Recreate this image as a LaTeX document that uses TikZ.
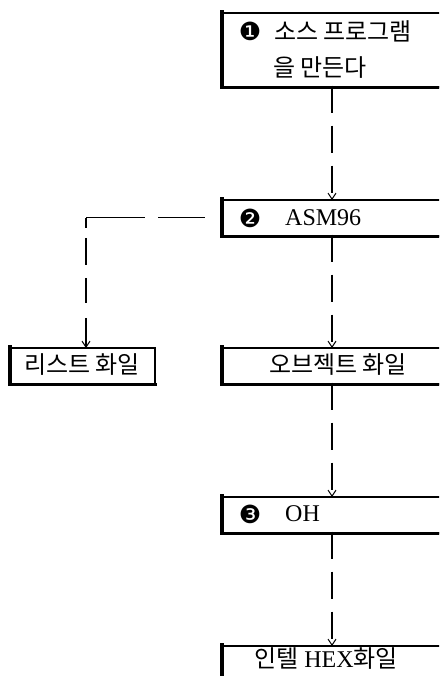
\documentclass[tikz,border=0pt]{standalone}
\usepackage{fontspec}
\setmainfont{Liberation Serif}
\newfontfamily\kr{Noto Sans CJK KR}
\newfontfamily\dv{DejaVu Sans}
\usetikzlibrary{arrows.meta}
\tikzset{
  boxnode/.style={draw, line width=1.6pt, inner sep=0pt, anchor=north west},
  heavy/.style={line width=3.5pt, line cap=rect},
  lbl/.style={inner sep=0pt, font=\fontsize{24}{28}\selectfont},
  num/.style={inner sep=0pt, font=\fontsize{25}{28}\selectfont\dv},
  tip/.style={-{Straight Barb[length=6pt,width=8pt,line width=1pt]}},
  conn/.style={line width=1.1pt, dash pattern=on 27pt off 13pt, tip},
  hconn/.style={line width=1.1pt, dash pattern=on 59pt off 13pt on 47pt off 30pt},
  vconn/.style={line width=1.1pt, dash pattern=on 10pt off 10pt on 27pt off 13pt on 25pt off 15pt on 60pt off 0pt, tip}
}
\begin{document}
\begin{tikzpicture}[x=1pt,y=-1pt]
\useasboundingbox (0,0) rectangle (439,676);
\clip (0,0) rectangle (439,676);
% boxes
\node[boxnode, minimum width=230pt, minimum height=74pt] (b1) at (222,12) {};
\node[boxnode, minimum width=230pt, minimum height=36pt] (b2) at (222,199) {};
\node[boxnode, minimum width=144pt, minimum height=36pt] (lst) at (10,347) {};
\node[boxnode, minimum width=230pt, minimum height=36pt] (obj) at (222,347) {};
\node[boxnode, minimum width=230pt, minimum height=36pt] (b3) at (222,496) {};
\node[boxnode, minimum width=230pt, minimum height=50pt] (b4) at (222,645) {};
\foreach \b in {b1,b2,lst,obj,b3,b4}{
  \draw[heavy] (\b.north west) -- (\b.south west) -- (\b.south east);
}
% texts
\node[num] (n1) at (250,31) {❶};
\node[lbl, anchor=west] (t1a) at (274,31) {\kr 소스 프로그램};
\node[lbl, anchor=west] (t1b) at (273,68) {\kr 을 만든다};
\node[num] (n2) at (250,218) {❷};
\node[lbl, anchor=west] (t2) at (285,218) {ASM96};
\node[lbl] (tl) at (82,365) {\kr 리스트 화일};
\node[lbl] (to) at (338,365) {\kr 오브젝트 화일};
\node[num] (n3) at (250,514) {❸};
\node[lbl, anchor=west] (t3) at (285,514) {OH};
\node[lbl] (t4) at (326,659) {{\kr 인텔} HEX{\kr 화일}};
% connectors
\coordinate (spine) at (332,0);
\coordinate (corner) at (b2.west -| 86,0);
\draw[conn] ([yshift=2pt]b1.south -| spine) -- ([yshift=-1pt]b2.north -| spine);
\draw[conn] ([yshift=2pt]b2.south -| spine) -- ([yshift=-1pt]obj.north -| spine);
\draw[conn] ([yshift=2pt]obj.south -| spine) -- ([yshift=-1pt]b3.north -| spine);
\draw[conn] ([yshift=2pt]b3.south -| spine) -- ([yshift=-1pt]b4.north -| spine);
\draw[hconn] (corner) -- (b2.west);
\draw[vconn] (corner) -- ([yshift=-1pt]lst.north -| corner);
\end{tikzpicture}
\end{document}
